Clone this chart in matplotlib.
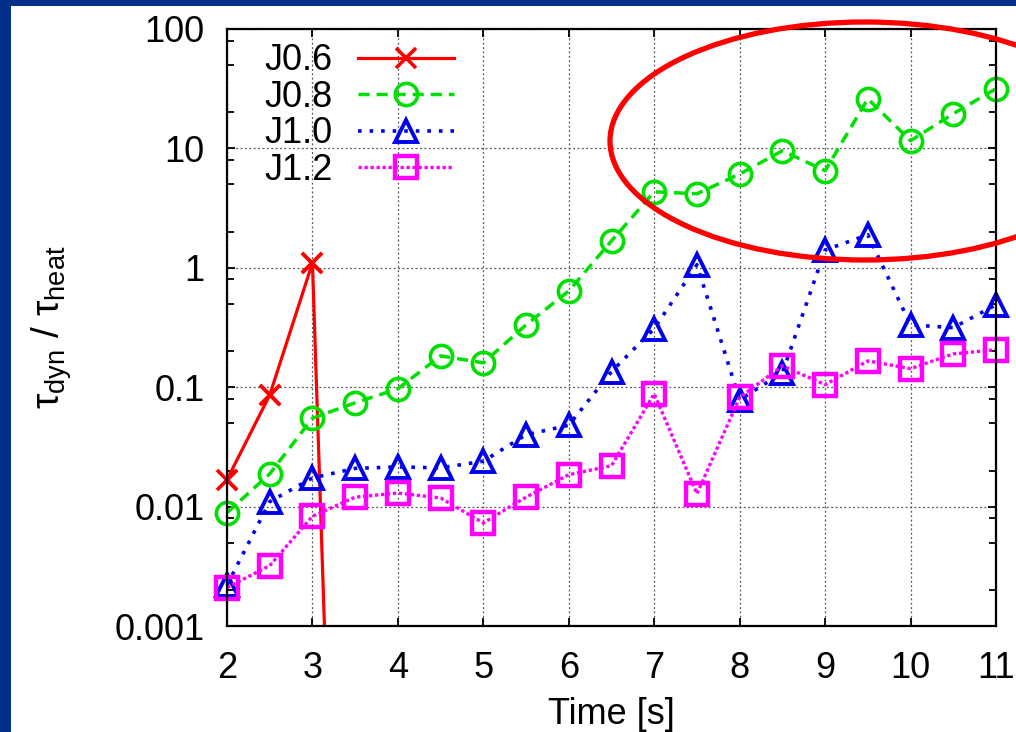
import matplotlib
matplotlib.use("Agg")
import matplotlib.pyplot as plt
import numpy as np
from matplotlib.patches import Ellipse, Rectangle
from matplotlib.ticker import LogLocator, NullFormatter, FixedLocator

plt.rcParams['font.family'] = ['Liberation Sans', 'DejaVu Sans']
plt.rcParams['mathtext.fontset'] = 'custom'
plt.rcParams['mathtext.rm'] = 'Liberation Sans'
plt.rcParams['mathtext.it'] = 'Liberation Sans:italic'

# data
time = [2, 2.5, 3, 3.5, 4, 4.5, 5, 5.5, 6, 6.5, 7, 7.5, 8, 8.5, 9, 9.5, 10, 10.5, 11]
time_j06 = [2, 2.5, 3, 3.5]
j06 = [0.0168, 0.086, 1.1, 1.6e-11]
j08 = [0.0089, 0.0188, 0.055, 0.074, 0.097, 0.183, 0.16, 0.333, 0.64, 1.68,
       4.33, 4.17, 6.1, 9.55, 6.5, 26.0, 11.6, 19.5, 31.6]
j10 = [0.0022, 0.011, 0.0174, 0.0209, 0.0215, 0.0211, 0.024, 0.040, 0.048, 0.135,
       0.31, 1.06, 0.0785, 0.132, 1.41, 1.89, 0.333, 0.315, 0.49]
j12 = [0.0021, 0.0032, 0.0083, 0.012, 0.013, 0.0118, 0.0073, 0.012, 0.0185, 0.022,
       0.088, 0.0128, 0.082, 0.151, 0.105, 0.166, 0.143, 0.19, 0.206]
labels = ['J0.6', 'J0.8', 'J1.0', 'J1.2']

fig = plt.figure(figsize=(10.16, 7.32), dpi=100)
fig.patch.set_facecolor('#00308a')
# white slide area (blue strip left and top)
fig.patches.append(Rectangle((11 / 1016, 0), 1, (732 - 6) / 732, transform=fig.transFigure,
                             facecolor='white', edgecolor='none', zorder=-10))

ax = fig.add_axes([227 / 1016, 106 / 732, 769 / 1016, 597 / 732])
ax.set_zorder(1)

ax.set_yscale('log')
ax.set_xlim(2, 11)
ax.set_ylim(0.001, 100)

# J0.6 drops far below the axis: line is clipped, visible markers are not
ax.plot(time_j06, j06, color='#ff0000', lw=2.3, ls='-', marker='x', ms=15, mew=2.6,
        markevery=[0, 1, 2], label=labels[0])
vis = [i for i, v in enumerate(j06) if v >= 0.001]
ax.plot([time_j06[i] for i in vis], [j06[i] for i in vis], ls='none', color='#ff0000',
        marker='x', ms=15, mew=2.6, clip_on=False)
ax.plot(time, j08, color='#00e000', lw=2.5, ls=(0, (3.2, 2)), marker='o', ms=16, mew=2.6,
        mfc='none', label=labels[1], clip_on=False)
ax.plot(time, j10, color='#0000ee', lw=2.6, ls=(0, (1, 2.2)), marker='^', ms=16, mew=2.8,
        mfc='none', label=labels[2], clip_on=False)
ax.plot(time, j12, color='#ff00ff', lw=2.4, ls=(0, (1, 0.8)), marker='s', ms=16, mew=3.2,
        mfc='none', label=labels[3], clip_on=False)

ax.xaxis.set_major_locator(FixedLocator(np.arange(2, 12)))
ax.yaxis.set_major_locator(FixedLocator([0.001, 0.01, 0.1, 1, 10, 100]))
ax.set_yticklabels(['0.001', '0.01', '0.1', '1', '10', '100'])
ax.yaxis.set_minor_locator(LogLocator(base=10, subs=[2, 5, 8]))
ax.yaxis.set_minor_formatter(NullFormatter())

ax.grid(True, which='major', ls=(0, (1.5, 2)), color='#555555', lw=0.9)
ax.tick_params(which='both', direction='in', top=True, right=True, width=1.3,
               labelsize=26, colors='black')
ax.tick_params(which='major', length=6)
ax.tick_params(which='minor', length=5)
ax.tick_params(axis='y', pad=16)
ax.tick_params(axis='x', pad=18)
for s in ax.spines.values():
    s.set_linewidth(1.6)

ax.set_xlabel('Time [s]', fontsize=26, labelpad=8)
ax.set_ylabel(r'τ$_{\rm dyn}$ / τ$_{\rm heat}$', fontsize=28, labelpad=29)

leg = ax.legend(loc='upper left', markerfirst=False, frameon=False, fontsize=26,
                handlelength=2.65, handletextpad=0.7, labelspacing=0.04,
                borderaxespad=0.0, bbox_to_anchor=(0.03, 1.0))

# red ellipse annotation
fig.patches.append(Ellipse((865 / 1016, (732 - 141) / 732), 510 / 1016, 238 / 732,
                           transform=fig.transFigure, fill=False, edgecolor='#ff0000',
                           lw=3.8, zorder=10))

fig.savefig('out.png', dpi=100, facecolor=fig.get_facecolor())
